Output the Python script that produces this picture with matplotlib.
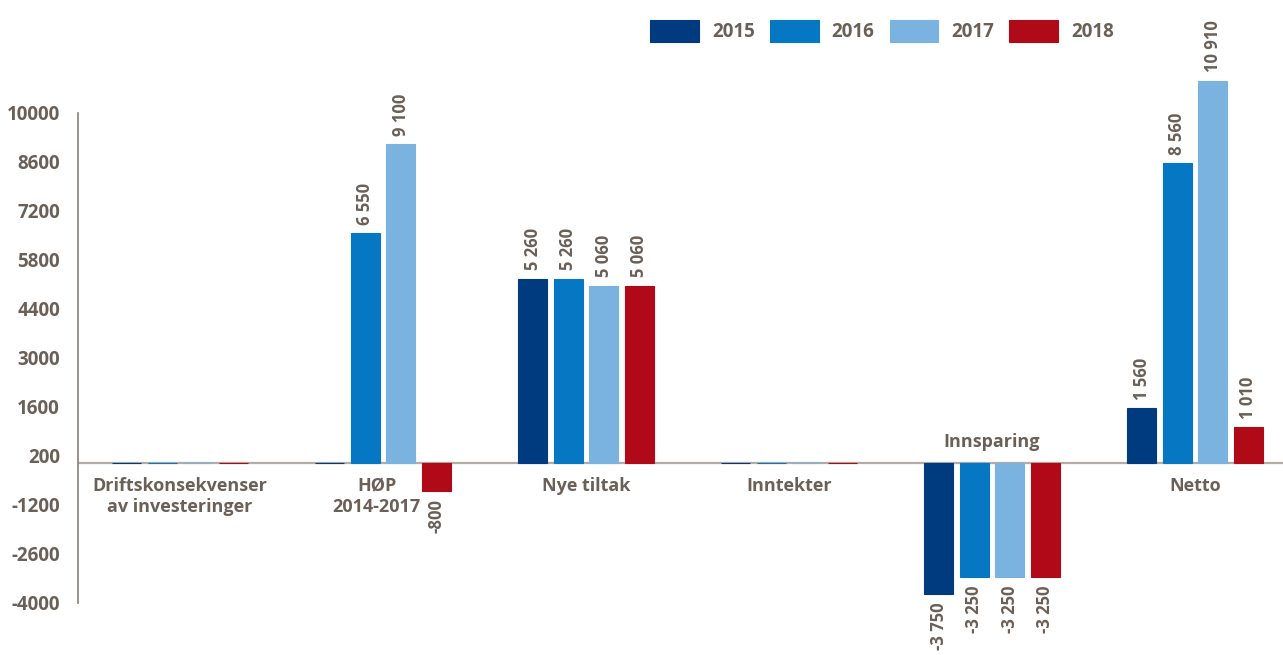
import matplotlib
matplotlib.use("Agg")
import matplotlib.pyplot as plt
import numpy as np

# data
categories = ["Driftskonsekvenser\nav investeringer", "HØP\n2014-2017", "Nye tiltak",
              "Inntekter", "Innsparing", "Netto"]
years = ["2015", "2016", "2017", "2018"]
v2015 = [0, 0, 5260, 0, -3750, 1560]
v2016 = [0, 6550, 5260, 0, -3250, 8560]
v2017 = [0, 9100, 5060, 0, -3250, 10910]
v2018 = [0, -800, 5060, 0, -3250, 1010]
series = [v2015, v2016, v2017, v2018]
colors = ["#003b80", "#0677c3", "#7ab3df", "#b00a18"]
yticks = np.arange(-4000, 10001, 1400)

text_col = "#6b6058"
axis_col = "#b5aca5"
plt.rcParams['font.family'] = ['Open Sans', 'DejaVu Sans']

fig = plt.figure(figsize=(12.83, 6.55), dpi=100)
ax = fig.add_axes([78/1283, 1 - 603/655, 1 - 78/1283, (603 - 60)/655])

x = np.arange(len(categories))
step = 0.175
width = 0.143
for i, (vals, col, yr) in enumerate(zip(series, colors, years)):
    xs = x + (i - 1.5) * step
    ax.bar(xs, vals, width=width, color=col, edgecolor=col, linewidth=0.8, label=yr)
    for xi, v in zip(xs, vals):
        if v == 0:
            continue
        lab = f"{v:,}".replace(",", " ")
        if v > 0:
            ax.annotate(lab, (xi, v), xytext=(0, 6), textcoords="offset points",
                        rotation=90, ha="center", va="bottom", fontsize=12,
                        fontweight="bold", color=text_col)
        else:
            ax.annotate(lab, (xi, v), xytext=(0, -6), textcoords="offset points",
                        rotation=90, ha="center", va="top", fontsize=12,
                        fontweight="bold", color=text_col)

# category labels
for xi, cat in zip(x, categories):
    if cat == "Innsparing":
        ax.text(xi, 350, cat, ha="center", va="bottom", fontsize=13,
                fontweight="bold", color=text_col)
    else:
        ax.text(xi - 0.03 if cat.startswith("HØP") else xi, -400, cat,
                ha="center", va="top", fontsize=13,
                fontweight="bold", color=text_col, linespacing=1.25)

ax.set_xlim(-0.502, 5.433)
ax.set_ylim(-4000, 11500)
ax.set_yticks(yticks)
ax.set_yticklabels([str(t) for t in yticks])
ax.set_xticks([])
ax.tick_params(axis="y", length=0, pad=13, labelsize=13.5, labelcolor=text_col)
for lab in ax.get_yticklabels():
    lab.set_fontweight("bold")

for s in ["top", "right", "bottom"]:
    ax.spines[s].set_visible(False)
ax.spines["left"].set_bounds(-4000, 10000)
ax.spines["left"].set_color("#8a7f78")
ax.spines["left"].set_linewidth(1.2)
ax.axhline(0, color=axis_col, linewidth=1.6, zorder=0)

fig.legend(loc="center", bbox_to_anchor=(882/1283, 1 - 31/655), ncol=4, frameon=False,
           handlelength=2.6, handleheight=1.5, columnspacing=0.8, handletextpad=0.7,
           prop={"size": 13.5, "weight": "bold"}, labelcolor=text_col)

fig.savefig("out.png", dpi=100)
